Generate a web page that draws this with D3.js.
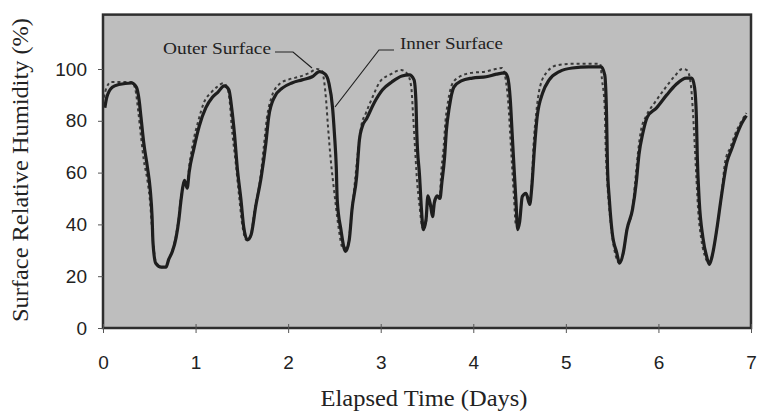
<!DOCTYPE html>
<html>
<head>
<meta charset="utf-8">
<script src="https://cdn.jsdelivr.net/npm/d3@7"></script>
<style>
  html, body { margin: 0; padding: 0; background: #ffffff; }
  svg { display: block; }
</style>
</head>
<body>
<svg id="chart" width="760" height="414"></svg>
<script>
// ---- Data ----
const xTicks = [0, 1, 2, 3, 4, 5, 6, 7];
const yTicks = [0, 20, 40, 60, 80, 100];

const innerDays = [0.02,0.04,0.10,0.17,0.31,0.36,0.39,0.41,0.44,0.48,0.51,0.53,0.54,0.57,0.63,0.68,0.71,0.75,0.79,0.82,0.84,0.86,0.88,0.91,0.93,0.98,1.04,1.11,1.18,1.24,1.31,1.36,1.39,1.42,1.45,1.49,1.52,1.56,1.60,1.65,1.71,1.76,1.79,1.85,1.94,2.04,2.15,2.26,2.34,2.40,2.44,2.48,2.50,2.52,2.53,2.57,2.62,2.66,2.69,2.74,2.77,2.80,2.85,2.93,3.02,3.12,3.23,3.31,3.36,3.38,3.39,3.42,3.44,3.46,3.49,3.51,3.54,3.56,3.58,3.61,3.64,3.66,3.69,3.71,3.74,3.79,3.87,3.99,4.14,4.25,4.34,4.37,4.40,4.42,4.44,4.46,4.48,4.50,4.53,4.57,4.61,4.63,4.66,4.69,4.75,4.82,4.93,5.07,5.25,5.38,5.42,5.44,5.45,5.47,5.50,5.55,5.58,5.62,5.66,5.72,5.76,5.79,5.83,5.88,5.98,6.09,6.19,6.30,6.36,6.39,6.41,6.42,6.44,6.48,6.52,6.55,6.58,6.63,6.68,6.74,6.79,6.84,6.90,6.95];
const innerRH = [85,89,93,94,94.6,93,88,81.5,71.5,62,53.5,43,33,25,23.5,23.5,26.5,29.6,35,42,48.5,54,57,54,60,69,78,85,89,91,93.5,92,85,75,62,49.6,39,34,36,47,58.5,71.5,81.5,89,92.7,94.6,95.8,97,99,98,94.6,85,75,62,49.6,38,29.6,34,45.8,58.5,72.7,77.7,81,87,92,95,97.3,97.7,95.8,88,75,58.5,45.8,38,42,51,47,43,48.5,51,50,56,66,76.5,85,93,95.4,96.5,97,98,98.5,97,88,75,62,49.6,38,40.8,50.8,52,47.7,53.5,69,81.5,90.8,95.8,99,100.4,100.8,100.8,97.7,81.5,62,49.6,37,29,25,29,38,45.8,56,67,75,81.5,85,90,94,96.5,96.5,93,81.5,66,49.6,35,27.7,24.6,27.7,38,50.8,64,69,74,79,82];

const outerDays = [0.01,0.04,0.09,0.17,0.31,0.35,0.38,0.41,0.44,0.48,0.51,0.53,0.55,0.58,0.63,0.68,0.71,0.75,0.79,0.82,0.84,0.86,0.88,0.91,0.93,0.97,1.03,1.09,1.17,1.23,1.30,1.34,1.37,1.39,1.43,1.47,1.50,1.55,1.59,1.64,1.70,1.74,1.77,1.82,1.90,2.01,2.12,2.23,2.31,2.36,2.39,2.41,2.43,2.46,2.50,2.54,2.59,2.64,2.68,2.72,2.76,2.79,2.84,2.91,2.99,3.11,3.22,3.29,3.33,3.35,3.37,3.39,3.42,3.45,3.49,3.51,3.55,3.58,3.61,3.64,3.65,3.68,3.70,3.73,3.77,3.85,3.98,4.13,4.24,4.31,4.35,4.38,4.40,4.42,4.44,4.46,4.50,4.53,4.57,4.61,4.63,4.65,4.68,4.72,4.80,4.91,5.06,5.25,5.37,5.39,5.42,5.43,5.45,5.48,5.52,5.58,5.62,5.66,5.72,5.75,5.78,5.81,5.87,5.96,6.06,6.17,6.26,6.31,6.35,6.37,6.39,6.41,6.43,6.46,6.50,6.55,6.58,6.63,6.68,6.72,6.78,6.83,6.90,6.95];
const outerRH = [89,93,95,95,95,92,84,74,65,57,48,38,30,24.5,23.5,23.5,26.5,30,36,43,50,54,57,55,62,71,80,87,91,93,94.5,93,87,78,65,51,41,34,35,46,58,71,81,89,94,96,97,98.5,100,99.5,95,88,78,65,52,40,31,31,42,56,70,78,83,89,95,98,99.6,98,93,82,70,58,47,39,41,50,45,49,51,51,58,70,80,88,94,97,98.5,99,100,100.4,96,86,74,62,50,40,42,51,52,48,55,70,83,93,99,101.5,102,102,102,96,85,70,55,42,31,25,29,38,46,57,68,76,82,87,92,97,100,99.5,94,85,72,58,45,35,28,25,28,38,51,64,70,75,80,83];

const labels = ["Outer Surface", "Inner Surface"];
const xTitle = "Elapsed Time (Days)";
const yTitle = "Surface Relative Humidity (%)";

// ---- Layout ----
const svg = d3.select("#chart");
const left = 103, right = 751, bottom = 328;
const x = d3.scaleLinear().domain([0, 7]).range([left, right]);
const y = d3.scaleLinear().domain([0, 100]).range([bottom, 69]);
const plotTop = y(121);
const serif = "Liberation Serif, Times New Roman, serif";
const sans = "Liberation Sans, Arial, sans-serif";

// plot background
svg.append("rect")
  .attr("x", left).attr("y", plotTop)
  .attr("width", right - left).attr("height", bottom - plotTop)
  .attr("fill", "#bebebe");

const inner = innerDays.map((d, i) => [d, innerRH[i]]);
const outer = outerDays.map((d, i) => [d, outerRH[i]]);
const line = d3.line().x(d => x(d[0])).y(d => y(d[1])).curve(d3.curveMonotoneX);

svg.append("path").datum(outer)
  .attr("d", line).attr("fill", "none")
  .attr("stroke", "#3a3a3a").attr("stroke-width", 2)
  .attr("stroke-dasharray", "3,3");

svg.append("path").datum(inner)
  .attr("d", line).attr("fill", "none")
  .attr("stroke", "#1e1e1e").attr("stroke-width", 3.2)
  .attr("stroke-linejoin", "round");

// frame
svg.append("rect")
  .attr("x", left).attr("y", plotTop)
  .attr("width", right - left).attr("height", bottom - plotTop)
  .attr("fill", "none").attr("stroke", "#2e2e2e").attr("stroke-width", 2.5);

// axes
const yAxis = d3.axisLeft(y).tickValues(yTicks).tickSize(5).tickPadding(11).tickFormat(d3.format("d"));
const gy = svg.append("g").attr("transform", `translate(${left},0)`).call(yAxis);
gy.select(".domain").remove();
gy.selectAll("line").attr("stroke", "#555");
gy.selectAll("text").attr("font-family", sans)
  .attr("font-size", 19).attr("fill", "#222");

const xAxis = d3.axisBottom(x).tickValues(xTicks).tickSize(5).tickPadding(23).tickFormat(d3.format("d"));
const gx = svg.append("g").attr("transform", `translate(0,${bottom})`).call(xAxis);
gx.select(".domain").remove();
gx.selectAll("line").attr("stroke", "#555").attr("y1", -4);
gx.selectAll("text").attr("font-family", sans)
  .attr("font-size", 19).attr("fill", "#222");

// titles
svg.append("text")
  .attr("x", 424).attr("y", 406)
  .attr("text-anchor", "middle")
  .attr("font-family", serif)
  .attr("font-size", 23).attr("fill", "#222")
  .attr("textLength", 207).attr("lengthAdjust", "spacingAndGlyphs")
  .text(xTitle);

svg.append("text")
  .attr("transform", `translate(28,170) rotate(-90)`)
  .attr("text-anchor", "middle")
  .attr("font-family", serif)
  .attr("font-size", 23).attr("fill", "#222")
  .attr("textLength", 304).attr("lengthAdjust", "spacingAndGlyphs")
  .text(yTitle);

// annotations
svg.append("text").attr("x", 163).attr("y", 54)
  .attr("font-family", serif).attr("font-size", 16).attr("fill", "#222")
  .attr("textLength", 108).attr("lengthAdjust", "spacingAndGlyphs")
  .text(labels[0]);
svg.append("polyline")
  .attr("points", [[275, 52], [293, 52], [312, 68]].map(p => p.join(",")).join(" "))
  .attr("fill", "none").attr("stroke", "#222").attr("stroke-width", 1.2);

svg.append("text").attr("x", 400).attr("y", 49)
  .attr("font-family", serif).attr("font-size", 16).attr("fill", "#222")
  .attr("textLength", 103).attr("lengthAdjust", "spacingAndGlyphs")
  .text(labels[1]);
svg.append("polyline")
  .attr("points", [[394, 50], [379, 50], [335, 107]].map(p => p.join(",")).join(" "))
  .attr("fill", "none").attr("stroke", "#222").attr("stroke-width", 1.2);
</script>
</body>
</html>
